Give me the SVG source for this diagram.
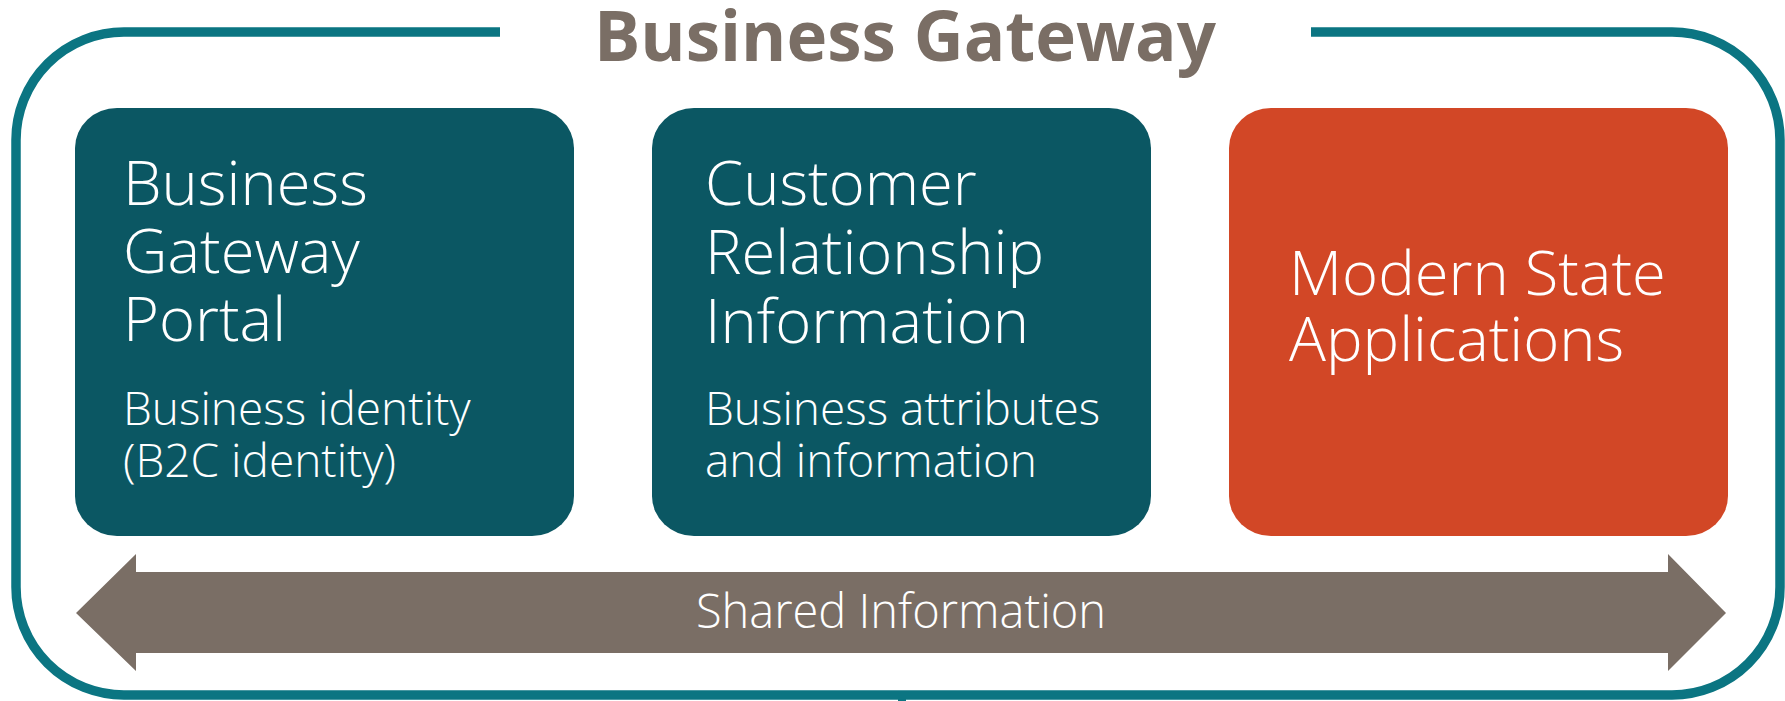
<svg xmlns="http://www.w3.org/2000/svg" width="1785" height="701" viewBox="0 0 1785 701">
<style>
.box{fill:#0B5763}
.red{fill:#D24726}
.t{font-family:"Open Sans","Noto Sans","Liberation Sans",sans-serif;fill:#FFFFFF;font-weight:300}
.big{font-size:61.5px}
.small{font-size:46px}
.title{font-family:"Open Sans","Noto Sans","Liberation Sans",sans-serif;font-weight:700;font-size:69px;fill:#7A6E65}
</style>
<rect width="1785" height="701" fill="#FFFFFF"/>
<g id="frame">
<path d="M500,32 H124 A108,108 0 0 0 16,140 V587 A108,108 0 0 0 124,695 H1672 A108,108 0 0 0 1780,587 V140 A108,108 0 0 0 1672,32 H1311" fill="none" stroke="#0B7582" stroke-width="9.5"/>
<rect x="898" y="699" width="8" height="2" fill="#0B7582"/>
</g>
<g id="title">
<text class="title" x="905" y="61" text-anchor="middle">Business Gateway</text>
</g>
<g id="portal">
<rect class="box" x="75" y="108" width="499" height="428" rx="42" ry="40"/>
<text class="t big" x="123" y="205">Business</text>
<text class="t big" x="123" y="273">Gateway</text>
<text class="t big" x="123" y="341">Portal</text>
<text class="t small" x="123" y="425">Business identity</text>
<text class="t small" x="123" y="477">(B2C identity)</text>
</g>
<g id="crm">
<rect class="box" x="652" y="108" width="499" height="428" rx="42" ry="40"/>
<text class="t big" x="705" y="205">Customer</text>
<text class="t big" x="705" y="274">Relationship</text>
<text class="t big" x="705" y="343">Information</text>
<text class="t small" x="705" y="425">Business attributes</text>
<text class="t small" x="705" y="477">and information</text>
</g>
<g id="msa">
<rect class="red" x="1229" y="108" width="499" height="428" rx="42" ry="40"/>
<text class="t big" x="1289" y="295">Modern State</text>
<text class="t big" x="1289" y="361">Applications</text>
</g>
<g id="connectors">
<polygon points="76,613 136,554 136,572 1668,572 1668,554 1726,613 1668,671 1668,653 136,653 136,671" fill="#7A6E65"/>
<text class="t" x="901" y="628" text-anchor="middle" font-size="47">Shared Information</text>
</g>
</svg>
